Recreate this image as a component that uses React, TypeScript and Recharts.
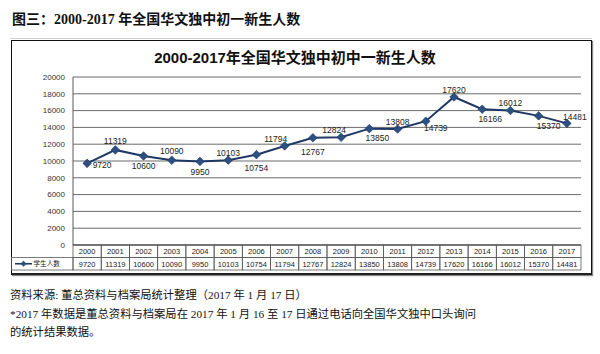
import React from 'react';
import { LineChart, Line, XAxis, YAxis, CartesianGrid, LabelList } from 'recharts';

const years = ['2000', '2001', '2002', '2003', '2004', '2005', '2006', '2007', '2008', '2009', '2010', '2011', '2012', '2013', '2014', '2015', '2016', '2017'];
const students = [9720, 11319, 10600, 10090, 9950, 10103, 10754, 11794, 12767, 12824, 13850, 13808, 14739, 17620, 16166, 16012, 15370, 14481];
const yTicks = [0, 2000, 4000, 6000, 8000, 10000, 12000, 14000, 16000, 18000, 20000];
const seriesName = '学生人数';
const pageTitle = '图三：2000-2017 年全国华文独中初一新生人数';
const chartTitle = '2000-2017年全国华文独中初中一新生人数';
const notes = [
  '资料来源: 董总资料与档案局统计整理（2017 年 1 月 17 日）',
  '*2017 年数据是董总资料与档案局在 2017 年 1 月 16 至 17 日通过电话向全国华文独中口头询问',
  '的统计结果数据。',
];

const data = years.map((y, i) => ({ year: y, students: students[i] }));

const W = 600;
const H = 354;
const M_LEFT = 13;
const Y_W = 60;
const M_RIGHT = 19;
const PLOT_W = W - M_LEFT - Y_W - M_RIGHT;
const BAND = PLOT_W / years.length;
const ROW_H = 12.5;
const GRID = '#5a5a5a';
const LINE_COLOR = '#1f3864';
const MARK_COLOR = '#2c5082';

// label nudges [dx, dy] relative to point (style only)
const LABEL_NUDGE: [number, number][] = [
  [15, 2], [0, -9], [0, 10], [0, -9], [0, 11], [0, -7], [0, 13], [-9, -7], [0, 14],
  [-7, -7], [8, 9], [0, -7], [10, 7], [0, -7], [8, 10], [0, -7], [10, 10], [8, -6],
];

const NUM_FONT = '"Liberation Sans", Arial, sans-serif';

const YearCell = (props: any) => {
  const { x, y, payload } = props;
  return (
    <g>
      <rect x={x - BAND / 2} y={y} width={BAND} height={ROW_H} fill="none" stroke={GRID} strokeWidth={0.8} />
      <text x={x} y={y + 9.2} textAnchor="middle" fontSize={7.5} fill="#222" fontFamily={NUM_FONT}>
        {payload.value}
      </text>
    </g>
  );
};

const ValueCell = (props: any) => {
  const { x, y, payload } = props;
  const idx = years.indexOf(payload.value);
  return (
    <g>
      <rect x={x - BAND / 2} y={y} width={BAND} height={ROW_H} fill="none" stroke={GRID} strokeWidth={0.8} />
      <text x={x} y={y + 9.2} textAnchor="middle" fontSize={7.5} fill="#222" fontFamily={NUM_FONT}>
        {students[idx]}
      </text>
    </g>
  );
};

const Diamond = (props: any) => {
  const { cx, cy } = props;
  if (cx == null || cy == null) return null;
  const r = 4.3;
  return (
    <polygon
      points={`${cx},${cy - r} ${cx + r},${cy} ${cx},${cy + r} ${cx - r},${cy}`}
      fill={MARK_COLOR}
      stroke={LINE_COLOR}
      strokeWidth={0.6}
    />
  );
};

const PointLabel = (props: any) => {
  const { x, y, value, index } = props;
  const [dx, dy] = LABEL_NUDGE[index] || [0, -8];
  return (
    <text x={x + dx} y={y + dy + 3} textAnchor="middle" fontSize={8.5} fill="#222" fontFamily={NUM_FONT}>
      {value}
    </text>
  );
};

export default function App() {
  return (
    <div style={{ position: 'absolute', left: 0, top: 0, width: W, height: H, background: '#fff', overflow: 'hidden' }}>
      <div
        style={{
          position: 'absolute', left: 12, top: 11, fontSize: 14, lineHeight: '18px', fontWeight: 'bold',
          fontFamily: '"Liberation Serif", "Noto Sans CJK SC", serif', color: '#111', whiteSpace: 'nowrap',
        }}
      >
        {pageTitle}
      </div>
      <div style={{ position: 'absolute', left: 10, top: 37.5, width: 582, height: 1, background: '#d0d0d0' }} />
      <div
        style={{
          position: 'absolute', left: 11, top: 40, width: 579, height: 232,
          border: '1px solid #111', borderBottom: '2px solid #222', boxShadow: '1px 1px 1px #888',
        }}
      />
      <div
        style={{
          position: 'absolute', left: 0, width: 590, textAlign: 'center', top: 49.5, fontSize: 15, lineHeight: '16px',
          fontWeight: 'bold', fontFamily: '"Liberation Sans", "Noto Sans CJK SC", sans-serif', color: '#111', whiteSpace: 'nowrap',
        }}
      >
        {chartTitle}
      </div>
      <div style={{ position: 'absolute', left: 0, top: 0 }}>
        <LineChart width={W} height={H} data={data} margin={{ top: 77, right: M_RIGHT, bottom: H - 245 - 2 * ROW_H, left: M_LEFT }}>
          <CartesianGrid horizontal vertical={false} stroke={GRID} strokeWidth={0.9} />
          <XAxis
            dataKey="year"
            xAxisId={0}
            height={ROW_H}
            padding={{ left: BAND / 2, right: BAND / 2 }}
            tickLine={false}
            tickSize={0}
            tickMargin={0}
            axisLine={{ stroke: GRID }}
            interval={0}
            tick={<YearCell />}
          />
          <XAxis
            dataKey="year"
            xAxisId="v"
            height={ROW_H}
            padding={{ left: BAND / 2, right: BAND / 2 }}
            tickLine={false}
            tickSize={0}
            tickMargin={0}
            axisLine={false}
            interval={0}
            tick={<ValueCell />}
          />
          <YAxis
            width={Y_W}
            domain={[0, 20000]}
            ticks={yTicks}
            interval={0}
            tickLine={false}
            axisLine={{ stroke: GRID }}
            tick={{ fontSize: 8, fill: '#333', fontFamily: NUM_FONT }}
          />
          <Line
            xAxisId={0}
            dataKey="students"
            name={seriesName}
            stroke={LINE_COLOR}
            strokeWidth={2}
            dot={<Diamond />}
            activeDot={false}
            isAnimationActive={false}
          >
            <LabelList dataKey="students" content={<PointLabel />} />
          </Line>
        </LineChart>
      </div>
      <svg style={{ position: 'absolute', left: 0, top: 0 }} width={W} height={H} pointerEvents="none">
        <rect x={11.5} y={245 + ROW_H} width={M_LEFT + Y_W - 11.5} height={ROW_H} fill="none" stroke={GRID} strokeWidth={0.8} />
        <line x1={15} x2={32} y1={245 + ROW_H * 1.5} y2={245 + ROW_H * 1.5} stroke={LINE_COLOR} strokeWidth={1.6} />
        <polygon
          points={`23.5,${245 + ROW_H * 1.5 - 3} 26.5,${245 + ROW_H * 1.5} 23.5,${245 + ROW_H * 1.5 + 3} 20.5,${245 + ROW_H * 1.5}`}
          fill={MARK_COLOR}
        />
        <text x={33.5} y={245 + ROW_H * 1.5 + 2.5} fontSize={6.6} fill="#222" fontFamily='"Noto Sans CJK SC", sans-serif'>
          {seriesName}
        </text>
      </svg>
      {notes.map((t, i) => (
        <div
          key={i}
          style={{
            position: 'absolute', left: 10, top: 286 + i * 18.5, fontSize: 11.3, lineHeight: '18px',
            fontFamily: '"Liberation Serif", "Noto Sans CJK SC", serif', color: '#111', whiteSpace: 'nowrap',
          }}
        >
          {t}
        </div>
      ))}
    </div>
  );
}
